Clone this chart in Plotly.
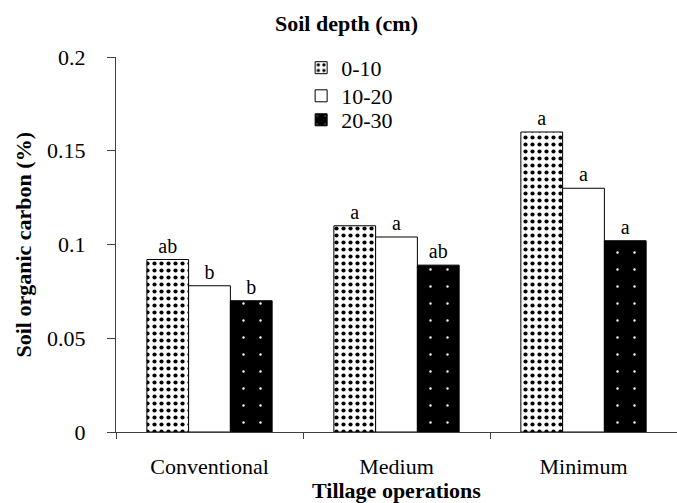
import plotly.graph_objects as go

categories = ["Conventional", "Medium", "Minimum"]
depths = ["0-10", "10-20", "20-30"]
soc_0_10 = [0.092, 0.110, 0.160]
soc_10_20 = [0.078, 0.104, 0.130]
soc_20_30 = [0.070, 0.089, 0.102]
letters_0_10 = ["ab", "a", "a"]
letters_10_20 = ["b", "a", "a"]
letters_20_30 = ["b", "ab", "a"]
y_ticks = [0, 0.05, 0.1, 0.15, 0.2]
y_tick_text = ["0", "0.05", "0.1", "0.15", "0.2"]

FONT = "Liberation Serif"

fig = go.Figure()
fig.add_trace(go.Bar(
    name=depths[0], x=categories, y=soc_0_10, text=letters_0_10,
    textposition="outside", cliponaxis=False, legend="legend",
    marker=dict(color="white", line=dict(color="black", width=1),
                pattern=dict(shape=".", fgcolor="black", bgcolor="white",
                             size=7, solidity=0.28, fillmode="replace")),
))
fig.add_trace(go.Bar(
    name=depths[1], x=categories, y=soc_10_20, text=letters_10_20,
    textposition="outside", cliponaxis=False, legend="legend2",
    marker=dict(color="white", line=dict(color="black", width=1)),
))
fig.add_trace(go.Bar(
    name=depths[2], x=categories, y=soc_20_30, text=letters_20_30,
    textposition="outside", cliponaxis=False, legend="legend3",
    marker=dict(color="black", line=dict(color="black", width=1),
                pattern=dict(shape=".", fgcolor="white", bgcolor="black",
                             size=17, solidity=0.015, fillmode="replace")),
))

fig.update_traces(textfont=dict(family=FONT, size=20, color="black"))

legend_style = dict(x=0.33, xanchor="left", yanchor="middle",
                    bgcolor="rgba(0,0,0,0)",
                    font=dict(family=FONT, size=22, color="black"),
                    itemwidth=30)

fig.update_layout(
    template="none",
    width=677, height=503,
    margin=dict(l=116, r=0, t=57, b=71, autoexpand=False),
    paper_bgcolor="white", plot_bgcolor="white",
    barmode="group", bargap=0.33, bargroupgap=0,
    font=dict(family=FONT, size=22, color="black"),
    showlegend=True,
    legend=dict(y=0.971, **legend_style),
    legend2=dict(y=0.896, **legend_style),
    legend3=dict(y=0.832, **legend_style),
    annotations=[
        dict(text="<b>Soil depth (cm)</b>", xref="paper", yref="paper",
             x=0.411, y=1.0, yshift=34, xanchor="center", yanchor="middle",
             showarrow=False, font=dict(family=FONT, size=22)),
        dict(text="<b>Tillage operations</b>", xref="paper", yref="paper",
             x=0.5, y=0, yshift=-58, xanchor="center", yanchor="middle",
             showarrow=False, font=dict(family=FONT, size=22)),
        dict(text="<b>Soil organic carbon (%)</b>", xref="paper", yref="paper",
             x=0, xshift=-93, y=0.5, xanchor="center", yanchor="middle",
             textangle=-90, showarrow=False, font=dict(family=FONT, size=22)),
    ],
)

fig.update_xaxes(
    type="category", range=[-0.5, 2.5], automargin=False,
    showline=True, linecolor="#404040", linewidth=1,
    ticks="outside", tickson="boundaries", ticklen=6, tickcolor="#404040",
    showgrid=False, zeroline=False, ticklabelstandoff=15,
    tickfont=dict(family=FONT, size=22, color="black"),
)
fig.update_yaxes(
    range=[0, 0.2], tickvals=y_ticks, ticktext=y_tick_text, automargin=False,
    showline=True, linecolor="#404040", linewidth=1,
    ticks="outside", ticklen=8, tickcolor="#404040",
    showgrid=False, zeroline=False, ticklabelstandoff=17,
    tickfont=dict(family=FONT, size=22, color="black"),
)

fig.write_html("out.html", config={"displayModeBar": False},
               post_script="document.body.style.margin='0';document.body.style.overflow='hidden';")
